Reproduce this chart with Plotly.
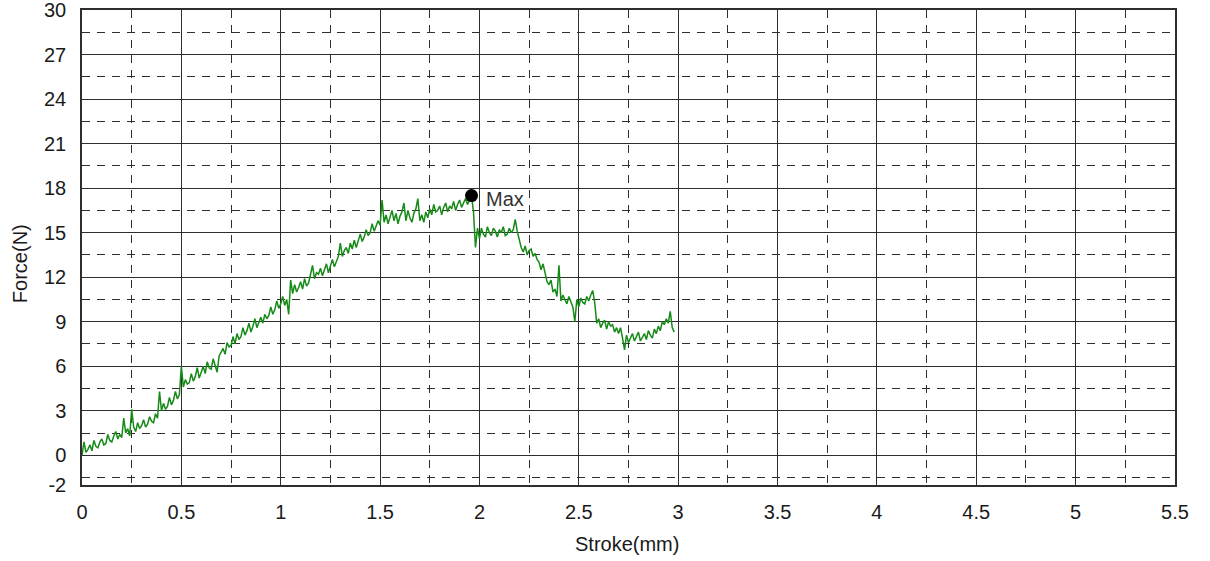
import numpy as np
import plotly.graph_objects as go

# Stroke sampled every 0.01 mm from 0 to 2.98 mm
stroke_step = 0.01
force = [
    0.0, 0.9, 0.2, 0.4, 0.7, 0.3, 1.0, 0.6, 0.5, 0.9,
    1.1, 0.7, 0.8, 1.4, 1.0, 0.9, 1.3, 1.6, 1.1, 1.4,
    1.2, 2.5, 1.5, 1.8, 1.3, 3.1, 1.9, 1.6, 2.2, 1.8,
    2.0, 2.4, 1.9, 2.1, 2.6, 2.3, 2.2, 2.8, 2.5, 4.3,
    3.0, 3.5, 3.1, 3.3, 3.9, 3.4, 3.7, 4.3, 3.8, 4.1,
    6.0, 4.6, 5.1, 4.8, 4.9, 5.5, 5.0, 5.3, 5.9, 5.2,
    5.6, 6.0, 5.5, 6.3, 5.9, 5.8, 6.5, 6.0, 5.6, 6.7,
    7.0, 7.2, 6.8, 7.6, 7.3, 7.4, 8.0, 7.5, 8.2, 7.8,
    8.0, 8.6, 8.1, 8.4, 8.9, 8.3, 8.7, 9.2, 8.6, 9.0,
    9.3, 8.9, 9.5, 9.2, 9.4, 10.0, 9.5, 9.8, 10.4, 9.9,
    10.2, 10.7, 10.1, 10.5, 9.5, 11.8, 10.9, 11.5, 11.0, 11.3,
    11.7, 11.2, 11.9, 11.4, 11.6, 12.2, 12.8, 11.9, 12.3, 12.2,
    12.6, 12.1, 12.5, 12.9, 12.3, 12.8, 13.2, 12.7, 13.0, 13.4,
    14.3, 13.4, 13.8, 14.0, 13.6, 14.3, 13.9, 14.5, 14.0, 14.4,
    14.9, 14.4, 14.7, 15.2, 14.8, 15.0, 15.6, 15.1, 15.4, 15.8,
    15.5, 17.2, 15.7, 16.2, 15.6, 16.0, 16.5, 15.8, 16.3, 15.6,
    16.1, 16.4, 17.0, 15.8, 16.5, 16.0, 15.7, 16.3, 16.6, 17.3,
    15.8, 16.2, 15.7, 16.4, 16.0, 16.6, 16.2, 16.9, 16.4, 16.5,
    16.8, 16.2, 16.7, 17.0, 16.4, 16.8, 16.6, 17.1, 16.5, 16.9,
    17.2, 16.7, 17.0, 17.3, 16.9, 17.2, 17.5, 16.4, 14.0, 15.3,
    14.6, 15.3, 14.9, 14.7, 15.4, 15.0, 14.8, 15.3, 15.1, 14.7,
    15.2, 15.0, 15.4, 14.8, 14.9, 15.3, 15.0, 15.2, 15.9, 15.1,
    14.5, 14.0, 13.7, 14.1, 13.5, 13.8, 13.9, 13.4, 13.6, 13.2,
    13.0, 12.5, 12.9, 12.3, 11.7, 11.5, 11.8, 11.0, 11.2, 10.7,
    12.8, 10.4, 10.8, 10.5, 10.2, 10.7, 10.3, 10.0, 9.0, 10.5,
    10.0, 10.6, 10.3, 10.2, 10.7, 10.4, 10.8, 11.1, 10.3, 8.9,
    9.2, 8.6, 8.9, 9.1, 8.5, 9.0, 8.7, 8.8, 8.3, 8.6,
    8.2, 8.6, 7.9, 7.1, 8.1, 7.6, 7.9, 8.2, 7.7, 8.0,
    8.3, 7.7, 8.0, 8.2, 7.8, 8.4, 8.1, 7.9, 8.5, 8.2,
    8.7, 8.4, 9.0, 8.8, 9.2, 8.9, 9.7, 8.6, 8.3,
]
stroke = [round(i * stroke_step, 2) for i in range(len(force))]

x_ticks = [0, 0.5, 1, 1.5, 2, 2.5, 3, 3.5, 4, 4.5, 5, 5.5]
x_tick_text = ["0", "0.5", "1", "1.5", "2", "2.5", "3", "3.5", "4", "4.5", "5", "5.5"]
y_ticks = [-2, 0, 3, 6, 9, 12, 15, 18, 21, 24, 27, 30]
y_tick_text = ["-2", "0", "3", "6", "9", "12", "15", "18", "21", "24", "27", "30"]

peak_idx = int(np.argmax(force))
peak_x, peak_y = stroke[peak_idx], force[peak_idx]

line_col = "#2e2e2e"
font_family = "Liberation Sans, Arial, sans-serif"

fig = go.Figure()
fig.add_trace(go.Scatter(
    x=stroke, y=force, mode="lines",
    line=dict(color="#168a16", width=1.5),
    hoverinfo="skip", showlegend=False,
))
fig.add_trace(go.Scatter(
    x=[peak_x], y=[peak_y], mode="markers",
    marker=dict(color="black", size=13),
    hoverinfo="skip", showlegend=False,
))

fig.update_layout(
    width=1210, height=561,
    margin=dict(l=82, r=35, t=10, b=76),
    paper_bgcolor="white", plot_bgcolor="white",
    font=dict(family=font_family, size=20, color="#1a1a1a"),
    xaxis=dict(
        range=[0, 5.5], tickvals=x_ticks, ticktext=x_tick_text,
        showgrid=True, gridcolor=line_col, gridwidth=1,
        showline=True, linecolor=line_col, linewidth=1.5, mirror=True,
        zeroline=False, ticks="", ticklabelstandoff=8, automargin=False,
        ticklabeloverflow="allow",
        minor=dict(tick0=0, dtick=0.25, showgrid=True,
                   gridcolor=line_col, gridwidth=1, griddash="8px,7px"),
    ),
    yaxis=dict(
        range=[-2, 30], tickvals=y_ticks, ticktext=y_tick_text,
        showgrid=True, gridcolor=line_col, gridwidth=1,
        showline=True, linecolor=line_col, linewidth=1.5, mirror=True,
        zeroline=False, ticks="", ticklabelstandoff=10, automargin=False,
        ticklabeloverflow="allow",
        minor=dict(tick0=0, dtick=1.5, showgrid=True,
                   gridcolor=line_col, gridwidth=1, griddash="8px,7px"),
    ),
    annotations=[
        dict(text="Max", x=peak_x, y=peak_y, xref="x", yref="y",
             showarrow=False, xanchor="left", yanchor="middle", xshift=12, yshift=-3,
             font=dict(family=font_family, size=20, color="#333333")),
        dict(text="Stroke(mm)", xref="paper", yref="paper", x=0.4986, y=-0.124,
             showarrow=False, xanchor="center", yanchor="middle",
             font=dict(family=font_family, size=20, color="#1a1a1a")),
        dict(text="Force(N)", xref="paper", yref="paper", x=-0.0567, y=0.465,
             showarrow=False, xanchor="center", yanchor="middle", textangle=-90,
             font=dict(family=font_family, size=20, color="#1a1a1a")),
    ],
)

fig.write_html("out.html")
